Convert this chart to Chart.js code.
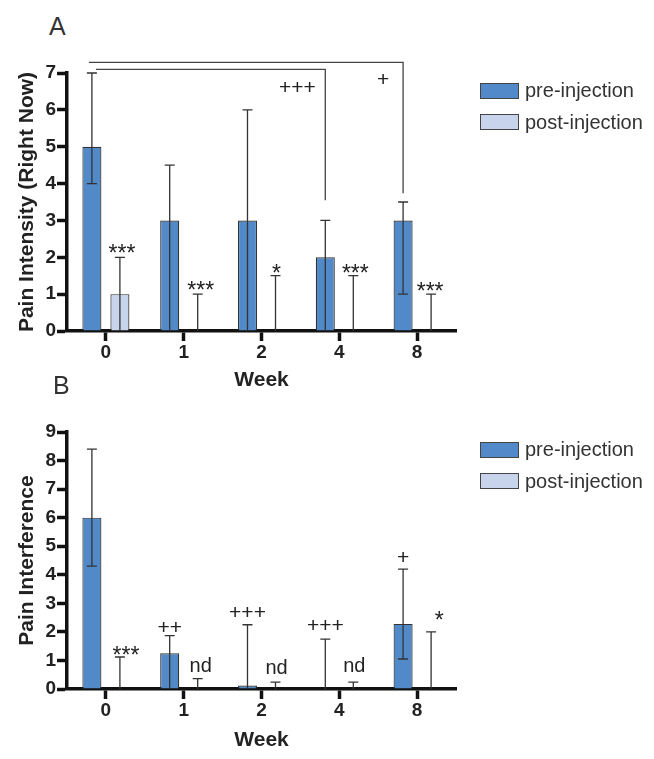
<!DOCTYPE html>
<html>
<head>
<meta charset="utf-8">
<script src="https://cdn.jsdelivr.net/npm/chart.js@4.4.1/dist/chart.umd.min.js"></script>
<style>
body { margin: 0; background: #fff; font-family: 'Liberation Sans', Arial, sans-serif; }
#page { position: relative; width: 654px; height: 759px; overflow: hidden; }
.plot { position: absolute; left: 0; width: 654px; }
.panel { position: absolute; font-size: 25px; line-height: 25px; color: #333; }
.legend { position: absolute; left: 480px; }
.legend .item { display: flex; align-items: center; height: 31.5px; font-size: 20px; color: #333; white-space: nowrap; }
.legend .sw { display: inline-block; box-sizing: border-box; width: 39px; height: 16px; margin-right: 6px; }
</style>
</head>
<body>
<div id="page">
  <div class="panel" style="left:49px; top:14px;">A</div>
  <div class="plot" style="top:0; height:395px;"><canvas class="chart-a"></canvas></div>
  <div class="legend legend-a" style="top:75px;"></div>

  <div class="panel" style="left:53px; top:373px;">B</div>
  <div class="plot" style="top:400px; height:359px;"><canvas class="chart-b"></canvas></div>
  <div class="legend legend-b" style="top:434px;"></div>
</div>
<script>
const weeks = ['0', '1', '2', '4', '8'];
const seriesNames = ['pre-injection', 'post-injection'];

// A: pain intensity (right now)
const intensityPre = [5, 3, 3, 2, 3];
const intensityPreLow = [4, 0, 0, 0, 1];
const intensityPreHigh = [7, 4.5, 6, 3, 3.5];
const intensityPost = [1, 0, 0, 0, 0];
const intensityPostLow = [0, 0, 0, 0, 0];
const intensityPostHigh = [2, 1, 1.5, 1.5, 1];

// B: pain interference
const interferencePre = [6, 1.25, 0.12, 0, 2.28];
const interferencePreLow = [4.3, 0, 0, 0, 1.05];
const interferencePreHigh = [8.4, 1.87, 2.25, 1.75, 4.2];
const interferencePost = [0, 0, 0, 0, 0];
const interferencePostLow = [0, 0, 0, 0, 0];
const interferencePostHigh = [1.12, 0.36, 0.24, 0.24, 2.0];

// significance marks: category index, dataset, value at text baseline
const marksA = [
    { i: 0, ds: 1, y: 1.93, text: '***', dx: 2 },
    { i: 1, ds: 1, y: 0.92, text: '***', dx: 3 },
    { i: 2, ds: 1, y: 1.39, text: '*', dx: 1 },
    { i: 3, ds: 1, y: 1.38, text: '***', dx: 2 },
    { i: 4, ds: 1, y: 0.9, text: '***', dx: -1 },
    { i: 3, ds: 0, y: 6.44, text: '+++', dx: -28 },
    { i: 4, ds: 0, y: 6.65, text: '+', dx: -20 }
];
const bracketsA = [
    { from: 0, to: 4, top: 7.29, bottom: 3.74, dx: -3 },
    { from: 0, to: 3, top: 7.1, bottom: 3.55, dx: 4 }
];
const marksB = [
    { i: 0, ds: 1, y: 0.94, text: '***', dx: 6 },
    { i: 1, ds: 0, y: 1.94, text: '++', dx: 0 },
    { i: 1, ds: 1, y: 0.6, text: 'nd', dx: 3 },
    { i: 2, ds: 0, y: 2.45, text: '+++', dx: 0 },
    { i: 2, ds: 1, y: 0.51, text: 'nd', dx: 1 },
    { i: 3, ds: 0, y: 1.98, text: '+++', dx: 0 },
    { i: 3, ds: 1, y: 0.6, text: 'nd', dx: 1 },
    { i: 4, ds: 0, y: 4.39, text: '+', dx: 0 },
    { i: 4, ds: 1, y: 2.17, text: '*', dx: 8 }
];

const FONT = "'Liberation Sans', Arial, sans-serif";
Chart.defaults.font.family = FONT;
const preColor = 'rgb(82,137,200)';
const postColor = 'rgb(200,212,236)';

const errorBars = {
    id: 'errorBars',
    afterDatasetsDraw(chart) {
        const ctx = chart.ctx;
        const y = chart.scales.y;
        ctx.save();
        ctx.strokeStyle = '#333';
        ctx.lineWidth = 1.3;
        chart.data.datasets.forEach((ds, d) => {
            chart.getDatasetMeta(d).data.forEach((bar, i) => {
                const lo = ds.errLow[i], hi = ds.errHigh[i];
                const yLo = y.getPixelForValue(lo), yHi = y.getPixelForValue(hi);
                ctx.beginPath();
                ctx.moveTo(bar.x, yLo);
                ctx.lineTo(bar.x, yHi);
                ctx.moveTo(bar.x - 5, yHi);
                ctx.lineTo(bar.x + 5, yHi);
                if (lo > 0) {
                    ctx.moveTo(bar.x - 5, yLo);
                    ctx.lineTo(bar.x + 5, yLo);
                }
                ctx.stroke();
            });
        });
        ctx.restore();
    }
};

function makeMarks(marks, brackets) {
    return {
        id: 'marks',
        afterDatasetsDraw(chart) {
            const ctx = chart.ctx;
            const y = chart.scales.y;
            ctx.save();
            ctx.fillStyle = '#222';
            ctx.textAlign = 'center';
            ctx.textBaseline = 'alphabetic';
            marks.forEach(m => {
                const bar = chart.getDatasetMeta(m.ds).data[m.i];
                let size = 21;
                if (m.text === 'nd') size = 20;
                if (m.text[0] === '*') size = 23;
                ctx.font = size + 'px ' + FONT;
                ctx.fillText(m.text, bar.x + m.dx, y.getPixelForValue(m.y) + (size === 23 ? 1 : 0));
            });
            ctx.strokeStyle = '#444';
            ctx.lineWidth = 1.3;
            brackets.forEach(b => {
                const pre = chart.getDatasetMeta(0).data;
                const yTop = y.getPixelForValue(b.top);
                ctx.beginPath();
                ctx.moveTo(pre[b.from].x + b.dx, yTop);
                ctx.lineTo(pre[b.to].x, yTop);
                ctx.lineTo(pre[b.to].x, y.getPixelForValue(b.bottom));
                ctx.stroke();
            });
            ctx.restore();
        }
    };
}

function barChart(canvas, legendEl, cfg) {
    const axisColor = '#111';
    const chart = new Chart(canvas.getContext('2d'), {
        type: 'bar',
        data: {
            labels: weeks,
            datasets: [{
                label: seriesNames[0],
                data: cfg.pre,
                errLow: cfg.preLow,
                errHigh: cfg.preHigh,
                backgroundColor: preColor,
                borderColor: '#333',
                borderWidth: 1.2
            }, {
                label: seriesNames[1],
                data: cfg.post,
                errLow: cfg.postLow,
                errHigh: cfg.postHigh,
                backgroundColor: postColor,
                borderColor: '#333',
                borderWidth: 1.2
            }]
        },
        options: {
            responsive: true,
            maintainAspectRatio: false,
            animation: false,
            categoryPercentage: 0.72,
            barPercentage: 0.68,
            layout: {
                padding: cfg.padding
            },
            scales: {
                x: {
                    z: 1,
                    grid: {
                        offset: false,
                        drawOnChartArea: false,
                        tickLength: 10,
                        tickWidth: 3.5,
                        tickColor: axisColor
                    },
                    border: { color: axisColor, width: 3.5 },
                    ticks: {
                        color: '#222',
                        padding: 0,
                        font: { size: 19, weight: 'bold' }
                    },
                    title: {
                        display: true,
                        text: 'Week',
                        color: '#222',
                        padding: { top: 0, bottom: 0 },
                        font: { size: 21, weight: 'bold' }
                    },
                    afterFit: s => { s.height = cfg.xHeight; }
                },
                y: {
                    min: 0,
                    max: cfg.max,
                    grid: {
                        drawOnChartArea: false,
                        tickLength: 10,
                        tickWidth: 3.5,
                        tickColor: axisColor
                    },
                    border: { color: axisColor, width: 3.5 },
                    ticks: {
                        stepSize: 1,
                        color: '#222',
                        padding: 1,
                        font: { size: 19, weight: 'bold' }
                    },
                    title: {
                        display: true,
                        text: cfg.yTitle,
                        color: '#222',
                        padding: { top: 15, bottom: 0 },
                        font: { size: 21, weight: 'bold' }
                    },
                    afterFit: s => { s.width = 67; }
                }
            },
            plugins: {
                legend: { display: false },
                tooltip: { enabled: false }
            }
        },
        plugins: [errorBars, makeMarks(cfg.marks, cfg.brackets)]
    });

    // html legend from the chart's own legend items
    Chart.defaults.plugins.legend.labels.generateLabels(chart).forEach(item => {
        const row = document.createElement('div');
        row.className = 'item';
        const sw = document.createElement('span');
        sw.className = 'sw';
        sw.style.background = item.fillStyle;
        sw.style.border = '1.5px solid #444';
        row.appendChild(sw);
        row.appendChild(document.createTextNode(item.text));
        legendEl.appendChild(row);
    });
    return chart;
}

barChart(document.querySelector('.chart-a'), document.querySelector('.legend-a'), {
    pre: intensityPre, preLow: intensityPreLow, preHigh: intensityPreHigh,
    post: intensityPost, postLow: intensityPostLow, postHigh: intensityPostHigh,
    max: 7,
    yTitle: 'Pain Intensity (Right Now)',
    padding: { top: 73, right: 198, bottom: 2, left: 0 },
    xHeight: 62,
    marks: marksA,
    brackets: bracketsA
});

barChart(document.querySelector('.chart-b'), document.querySelector('.legend-b'), {
    pre: interferencePre, preLow: interferencePreLow, preHigh: interferencePreHigh,
    post: interferencePost, postLow: interferencePostLow, postHigh: interferencePostHigh,
    max: 9,
    yTitle: 'Pain Interference',
    padding: { top: 32, right: 198, bottom: 6, left: 0 },
    xHeight: 64,
    marks: marksB,
    brackets: []
});
</script>
</body>
</html>
